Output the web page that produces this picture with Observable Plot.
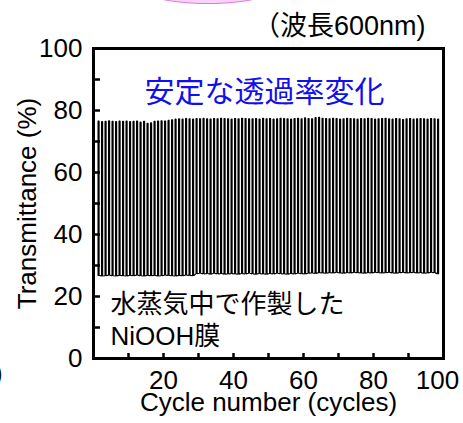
<!DOCTYPE html>
<html>
<head>
<meta charset="utf-8">
<script src="https://cdn.jsdelivr.net/npm/d3@7"></script>
<script src="https://cdn.jsdelivr.net/npm/@observablehq/plot@0.6"></script>
<style>
  html, body { margin: 0; padding: 0; background: #fff; }
  #wrap { position: relative; width: 463px; height: 423px; overflow: hidden; }
  #blob { position: absolute; left: 118px; top: -56px; width: 180px; height: 60px; border-radius: 50%;
          background: #f8d2f8; border: 1px solid #e27be2; box-sizing: border-box; }
  #paren { position: absolute; left: -6px; top: 358px; font: 26px "Liberation Sans", Arial, sans-serif; color: #000; }
  #chart { position: absolute; left: 0; top: 0; }
</style>
</head>
<body>
<div id="wrap">
  <div id="chart"></div>
  <div id="blob"></div>
  <span id="paren">)</span>
</div>
<script>
// Cycle-by-cycle transmittance (%) at 600 nm: peak (bleached) and trough (colored)
const peaks = [
  76.6, 76.4, 76.5, 76.7, 76.5, 76.4, 76.6, 76.5, 76.6, 76.4, 76.5, 76.6, 76.3, 76.5,
  75.9, 76.0,
  76.5, 76.6, 76.7, 76.6, 76.8,
  77.0, 77.2, 77.3, 77.2, 77.4, 77.3, 77.2, 77.4, 77.3, 77.5, 77.3, 77.2, 77.4, 77.3, 77.5, 77.4, 77.3, 77.2, 77.4, 77.3, 77.5, 77.4, 77.3,
  77.3, 77.4, 77.2, 77.5, 77.3, 77.4, 77.2, 77.3, 77.5, 77.4,
  77.3, 77.2, 77.4, 77.5, 77.3, 77.6, 77.4, 77.3, 77.7, 77.8,
  77.5, 77.4, 77.3, 77.5, 77.4, 77.2, 77.3, 77.5, 77.4, 77.3,
  77.2, 77.4, 77.3, 77.5, 77.4, 77.2, 77.3, 77.4, 77.5, 77.3,
  77.2, 77.4, 77.3, 77.1, 77.3, 77.4, 77.2, 77.3, 77.4, 77.3,
  77.2, 77.4, 77.3, 77.2
];
const troughs = [
  26.8, 26.6, 26.7, 26.9, 26.7, 26.6, 26.8, 26.7, 26.6, 26.8,
  26.7, 26.9, 26.7, 26.6, 26.8, 26.7, 26.8, 26.6, 26.7, 26.9,
  26.8, 26.7, 26.6, 26.8, 26.7, 26.9, 26.8, 26.7,
  27.4, 27.5, 27.3, 27.4, 27.2, 27.5, 27.3, 27.4, 27.2, 27.3,
  27.4, 27.3, 27.2, 27.4, 27.3, 27.5, 27.3, 27.2, 27.4, 27.3,
  27.2, 27.4, 27.3, 27.5, 27.4, 27.3, 27.2, 27.4, 27.3, 27.5,
  27.4, 27.3,
  27.5, 27.6, 27.4, 27.7, 27.6, 27.5, 27.7, 27.6, 27.8, 27.6,
  27.5, 27.7, 27.6, 27.8, 27.7, 27.6, 27.5, 27.7, 27.6, 27.8,
  27.7, 27.6, 27.7, 27.8, 27.6, 27.5, 27.7, 27.8, 27.6, 27.7,
  27.8, 27.6, 27.7, 27.5, 27.6, 27.8, 27.7, 27.3
];
const cycles = d3.range(1, peaks.length + 1);

const xTickLabels = [20, 40, 60, 80];
const xLastLabel = [100];
const xTickMarks = [10, 20, 30, 40, 50, 60, 70, 80, 90];
const yTickLabels = [0, 20, 40, 60, 80, 100];
const yTickMarks = [10, 20, 30, 40, 50, 60, 70, 80, 90];

const xLabel = "Cycle number (cycles)";
const yLabel = "Transmittance (%)";
const note = "（波長600nm)";
const headline = "安定な透過率変化";
const sampleLines = ["水蒸気中で作製した", "NiOOH膜"];

// square-wave trace: switch up, hold, switch down within each cycle
const trace = [];
cycles.forEach((c, i) => {
  trace.push({x: c + 0.3, y: troughs[i]});
  trace.push({x: c + 0.3, y: peaks[i]});
  trace.push({x: c + 0.6, y: peaks[i]});
  trace.push({x: c + 0.6, y: troughs[i]});
});

const W = 463, H = 423, mL = 93, mR = 20, mT = 48, mB = 65;
const innerW = W - mL - mR, innerH = H - mT - mB;
const latin = '"Liberation Sans", Arial, "Noto Sans CJK JP", sans-serif';
const cjk = '"Noto Sans CJK JP", sans-serif';

const chart = Plot.plot({
  width: W, height: H,
  marginLeft: mL, marginRight: mR, marginTop: mT, marginBottom: mB,
  x: {domain: [0, 100], axis: null},
  y: {domain: [0, 100], axis: null},
  style: {fontFamily: latin, fontSize: "26px", background: "transparent", color: "black", overflow: "visible"},
  marks: [
    Plot.line(trace, {x: "x", y: "y", stroke: "black", strokeWidth: 1.15, strokeLinejoin: "miter"}),
    Plot.tickX(xTickMarks, {x: d => d, insetTop: innerH - 5, stroke: "black", strokeWidth: 2.5}),
    Plot.tickY(yTickMarks, {y: d => d, insetRight: innerW - 7, stroke: "black", strokeWidth: 2.5}),
    Plot.frame({stroke: "black", strokeWidth: 3}),
    Plot.text(xTickLabels, {x: d => d, text: d => String(d), frameAnchor: "bottom", textAnchor: "middle", dy: 30, fontSize: 26, fill: "black"}),
    Plot.text(xLastLabel, {x: d => d, text: d => String(d), frameAnchor: "bottom", textAnchor: "middle", dx: -6, dy: 30, fontSize: 26, fill: "black"}),
    Plot.text(yTickLabels, {y: d => d, text: d => String(d), frameAnchor: "left", textAnchor: "end", dx: -11, fontSize: 26, fill: "black"}),
    Plot.text([xLabel], {text: d => d, frameAnchor: "bottom", textAnchor: "middle", dy: 52, fontSize: 26, fill: "black"}),
    Plot.text([yLabel], {text: d => d, frameAnchor: "left", textAnchor: "middle", dx: -66, rotate: -90, fontSize: 26, fill: "black"}),
    Plot.text([note], {text: d => d, frameAnchor: "top-right", textAnchor: "end", dx: -18, dy: -33, fontSize: 27, fill: "black", fontFamily: latin}),
    Plot.text([headline], {text: d => d, frameAnchor: "top", textAnchor: "middle", dx: -4, dy: 32, fontSize: 30, fill: "#1010ee", fontFamily: cjk}),
    Plot.text([sampleLines[0]], {text: d => d, frameAnchor: "bottom-left", textAnchor: "start", dx: 17, dy: -46, fontSize: 26, fill: "black", fontFamily: cjk}),
    Plot.text([sampleLines[1]], {text: d => d, frameAnchor: "bottom-left", textAnchor: "start", dx: 17, dy: -14, fontSize: 26, fill: "black", fontFamily: latin})
  ]
});
document.getElementById("chart").appendChild(chart);
</script>
</body>
</html>
